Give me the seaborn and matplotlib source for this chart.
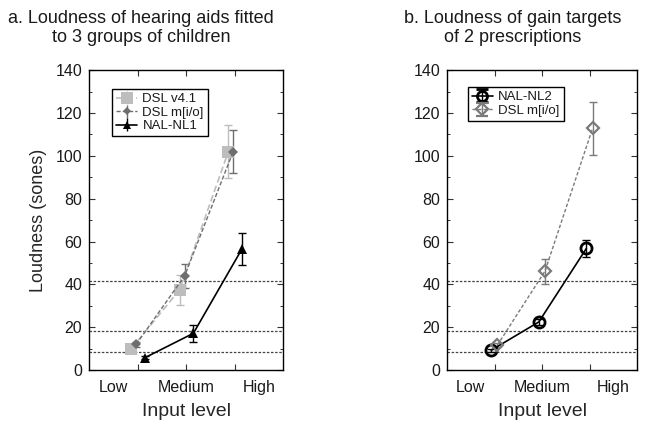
import numpy as np
import pandas as pd
import matplotlib
matplotlib.use("Agg")
import matplotlib.pyplot as plt
import seaborn as sns
from matplotlib.ticker import MultipleLocator

# ---------------- data ----------------
levels = ["Low", "Medium", "High"]
level_idx = [1, 2, 3]

# panel a
a_dsl41 = [10.0, 37.6, 102.0]
a_dsl41_err = [1.5, 7.0, 12.5]
a_dslmio = [12.0, 44.0, 102.0]
a_dslmio_err = [1.2, 5.5, 10.0]
a_nal1 = [5.8, 17.2, 56.5]
a_nal1_err = [0.8, 4.0, 7.3]

# panel b
b_nal2 = [9.3, 22.5, 56.8]
b_nal2_err = [0.8, 1.2, 4.0]
b_dslmio = [11.7, 46.2, 112.8]
b_dslmio_err = [1.0, 5.8, 12.3]

ref_levels = [41.7, 18.5, 8.4]

titles = ["a. Loudness of hearing aids fitted\nto 3 groups of children",
          "b. Loudness of gain targets\nof 2 prescriptions"]

# ---------------- style ----------------
sns.set_theme(style="ticks")
plt.rcParams["font.family"] = ["Liberation Sans", "DejaVu Sans"]
plt.rcParams["text.color"] = "#1a1a1a"

fig = plt.figure(figsize=(6.45, 4.25), dpi=100)
axA = fig.add_axes([0.138, 0.129, 0.301, 0.706])
axB = fig.add_axes([0.693, 0.129, 0.295, 0.706])

series_a = [
    dict(label="DSL v4.1", y=a_dsl41, e=a_dsl41_err, off=-0.13, color="#bdbdbd",
         marker="s", ms=9, mfc="#bdbdbd", mew=0, ls=(0, (4, 2)), lw=1.2),
    dict(label="DSL m[i/o]", y=a_dslmio, e=a_dslmio_err, off=-0.03, color="#6e6e6e",
         marker="D", ms=5, mfc="#6e6e6e", mew=0, ls=(0, (3, 1.5)), lw=1.0),
    dict(label="NAL-NL1", y=a_nal1, e=a_nal1_err, off=0.15, color="#000000",
         marker="^", ms=7, mfc="#000000", mew=0, ls="-", lw=1.2),
]
series_b = [
    dict(label="NAL-NL2", y=b_nal2, e=b_nal2_err, off=-0.07, color="#000000",
         marker="o", ms=8, mfc="none", mew=2.0, ls="-", lw=1.2),
    dict(label="DSL m[i/o]", y=b_dslmio, e=b_dslmio_err, off=0.06, color="#7a7a7a",
         marker="D", ms=6.5, mfc="none", mew=1.6, ls=(0, (2.5, 1.5)), lw=1.0),
]


def draw(ax, series, legend_pos):
    for yv in ref_levels:
        ax.axhline(yv, color="#444444", linestyle=(0, (2, 1.3)), linewidth=0.9, zorder=1)
    handles = []
    for s in series:
        x = [l + s["off"] for l in level_idx]
        df = pd.DataFrame({"x": x, "y": s["y"]})
        sns.lineplot(data=df, x="x", y="y", ax=ax, color=s["color"], linestyle=s["ls"],
                     linewidth=s["lw"], marker=s["marker"], markersize=s["ms"],
                     markerfacecolor=s["mfc"], markeredgecolor=s["color"],
                     markeredgewidth=s["mew"], legend=False, zorder=3)
        ax.errorbar(x, s["y"], yerr=s["e"], fmt="none", ecolor=s["color"],
                    elinewidth=1.0, capsize=3, capthick=1.0, zorder=2)
        h = ax.errorbar([np.nan], [np.nan], yerr=[np.nan], color=s["color"],
                        linestyle=s["ls"], linewidth=s["lw"], marker=s["marker"],
                        markersize=s["ms"] * 0.9, markerfacecolor=s["mfc"],
                        markeredgecolor=s["color"], markeredgewidth=s["mew"],
                        ecolor=s["color"], elinewidth=1.0, capsize=4, label=s["label"])
        handles.append(h)
    leg = ax.legend(handles=handles, loc="upper left", bbox_to_anchor=legend_pos,
                    fontsize=9.5, frameon=True, fancybox=False, edgecolor="black",
                    framealpha=1, handlelength=1.6, handletextpad=0.4,
                    labelspacing=0.1, borderpad=0.3, borderaxespad=0)
    leg.get_frame().set_linewidth(1.0)

    ax.set_xlim(0, 4)
    ax.set_ylim(0, 140)
    ax.yaxis.set_major_locator(MultipleLocator(20))
    ax.yaxis.set_minor_locator(MultipleLocator(10))
    ax.xaxis.remove_overlapping_locs = False
    ax.set_xticks([0.5, 2, 3.5], labels=levels)
    ax.set_xticks(level_idx, minor=True)
    ax.tick_params(axis="x", which="major", length=0, pad=7, labelsize=11.5,
                   labelcolor="#1a1a1a")
    ax.tick_params(axis="x", which="minor", direction="in", length=4, width=0.8,
                   top=True, bottom=True, color="#333333")
    ax.tick_params(axis="y", which="major", direction="in", length=4, width=0.8,
                   left=True, right=True, pad=5, labelsize=11.5, labelcolor="#1a1a1a",
                   color="#333333")
    ax.tick_params(axis="y", which="minor", direction="in", length=2, width=0.7,
                   left=True, right=True, color="#333333")
    for sp in ax.spines.values():
        sp.set_color("black")
        sp.set_linewidth(1.0)
    ax.set_xlabel("Input level", fontsize=14, labelpad=6)
    ax.set_ylabel("")


draw(axA, series_a, (0.119, 0.937))
draw(axB, series_b, (0.11, 0.943))
axA.set_ylabel("Loudness (sones)", fontsize=13, labelpad=6)

fig.text(0.219, 0.934, titles[0], ha="center", va="center", fontsize=13,
         multialignment="center", linespacing=1.1)
fig.text(0.795, 0.934, titles[1], ha="center", va="center", fontsize=13,
         multialignment="center", linespacing=1.1)

fig.savefig("out.png", dpi=100)
